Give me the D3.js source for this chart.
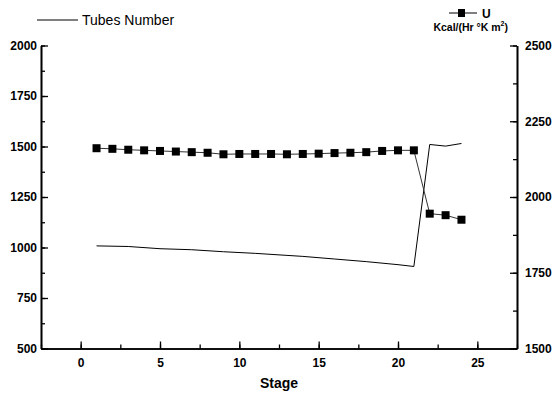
<!DOCTYPE html>
<meta charset="utf-8">
<style>
body { margin: 0; background: #fff; }
text { font-family: "Liberation Sans", Arial, sans-serif; }
.axis text { font-size: 12px; font-weight: bold; fill: #000; }
.axis path, .axis line { stroke: #000; }
.axis path { stroke-width: 1.6; }
.axis line { stroke-width: 1.3; }
</style>
<body>
<script src="https://cdn.jsdelivr.net/npm/d3@7"></script>
<script>

// data
var stages = [1,2,3,4,5,6,7,8,9,10,11,12,13,14,15,16,17,18,19,20,21,22,23,24];
var uValues = [2161,2159,2156,2154,2152,2150,2148,2146,2141,2142,2142,2142,2141,2142,2143,2145,2146,2148,2152,2154,2154,1945,1940,1925];
var tubeStages = [1,3,5,7,9,11,13,14,16,18,20,21,22,23,24];
var tubeValues = [1008,1005,994,989,979,971,961,956,943,930,915,906,1510,1502,1515];
var xTicks = [0,5,10,15,20,25];
var leftTicks = [500,750,1000,1250,1500,1750,2000];
var rightTicks = [1500,1750,2000,2250,2500];

// plot box
var plotLeft = 41, plotRight = 517, plotTop = 45.5, plotBottom = 348.5;

var svg = d3.select("body").append("svg")
    .attr("width", 555)
    .attr("height", 395);

var x = d3.scaleLinear().domain([-2.5, 27.5]).range([plotLeft, plotRight]);
var yL = d3.scaleLinear().domain([500, 2000]).range([plotBottom, plotTop]);
var yR = d3.scaleLinear().domain([1500, 2500]).range([plotBottom, plotTop]);

// minor ticks
svg.append("g").attr("class", "axis")
    .attr("transform", "translate(0," + plotBottom + ")")
    .call(d3.axisBottom(x).tickValues(d3.range(-2.5, 27.6, 2.5)).tickSize(-4).tickSizeOuter(0).tickFormat(""));
svg.append("g").attr("class", "axis")
    .attr("transform", "translate(" + plotLeft + ",0)")
    .call(d3.axisLeft(yL).tickValues(d3.range(500, 2001, 125)).tickSize(-4).tickSizeOuter(0).tickFormat(""));
svg.append("g").attr("class", "axis")
    .attr("transform", "translate(" + plotRight + ",0)")
    .call(d3.axisRight(yR).tickValues(d3.range(1500, 2501, 125)).tickSize(-4).tickSizeOuter(0).tickFormat(""));

// major ticks
svg.append("g").attr("class", "axis")
    .attr("transform", "translate(0," + plotBottom + ")")
    .call(d3.axisBottom(x).tickValues(xTicks).tickSize(-7).tickSizeOuter(0).tickPadding(10).tickFormat(d3.format("d")));
svg.append("g").attr("class", "axis")
    .attr("transform", "translate(" + plotLeft + ",0)")
    .call(d3.axisLeft(yL).tickValues(leftTicks).tickSize(-7).tickSizeOuter(0).tickPadding(4).tickFormat(d3.format("d")));
svg.append("g").attr("class", "axis")
    .attr("transform", "translate(" + plotRight + ",0)")
    .call(d3.axisRight(yR).tickValues(rightTicks).tickSize(-7).tickSizeOuter(0).tickPadding(8).tickFormat(d3.format("d")));

// x axis title
svg.append("text")
    .attr("x", (plotLeft + plotRight) / 2)
    .attr("y", 388)
    .attr("text-anchor", "middle")
    .style("font-size", "14px")
    .style("font-weight", "bold")
    .text("Stage");

// tubes number line
var tubeLine = d3.line()
    .x(function(d, i) { return x(tubeStages[i]); })
    .y(function(d) { return yL(d); });
svg.append("path")
    .datum(tubeValues)
    .attr("fill", "none")
    .attr("stroke", "#000")
    .attr("stroke-width", 1)
    .attr("d", tubeLine);

// U line and markers
var uLine = d3.line()
    .x(function(d, i) { return x(stages[i]); })
    .y(function(d) { return yR(d); });
svg.append("path")
    .datum(uValues)
    .attr("fill", "none")
    .attr("stroke", "#333")
    .attr("stroke-width", 1)
    .attr("d", uLine);
svg.selectAll(".mark")
    .data(uValues)
    .enter().append("rect")
    .attr("class", "mark")
    .attr("x", function(d, i) { return x(stages[i]) - 4; })
    .attr("y", function(d) { return yR(d) - 4; })
    .attr("width", 8)
    .attr("height", 8)
    .attr("fill", "#000");

// legend: tubes number
svg.append("line")
    .attr("x1", 37).attr("x2", 78).attr("y1", 20).attr("y2", 20)
    .attr("stroke", "#000").attr("stroke-width", 1);
svg.append("text")
    .attr("x", 82).attr("y", 25)
    .style("font-size", "14px")
    .text("Tubes Number");

// legend: U
svg.append("line")
    .attr("x1", 449).attr("x2", 477).attr("y1", 13).attr("y2", 13)
    .attr("stroke", "#000").attr("stroke-width", 1);
svg.append("rect")
    .attr("x", 458).attr("y", 9).attr("width", 7).attr("height", 8)
    .attr("fill", "#000");
svg.append("text")
    .attr("x", 482).attr("y", 18)
    .style("font-size", "12px")
    .style("font-weight", "bold")
    .text("U");

var unit = svg.append("text")
    .attr("x", 508).attr("y", 31)
    .attr("text-anchor", "end")
    .style("font-size", "10.5px")
    .style("font-weight", "bold");
unit.append("tspan").text("Kcal/(Hr \u00B0K m");
unit.append("tspan").attr("dy", -5).style("font-size", "7px").text("2");
unit.append("tspan").attr("dy", 5).text(")");

</script>
</body>
